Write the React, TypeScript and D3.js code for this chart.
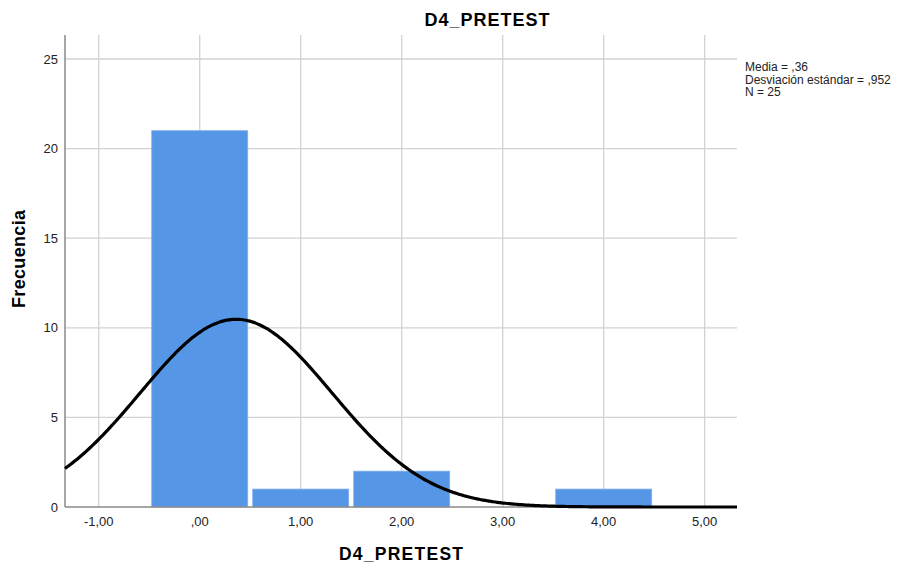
import * as d3 from 'd3'

// histogram bins (lower edge, upper edge) and counts
const binLower = [-0.5, 0.5, 1.5, 2.5, 3.5]
const binUpper = [0.5, 1.5, 2.5, 3.5, 4.5]
const counts = [21, 1, 2, 0, 1]
const xTicks = [-1, 0, 1, 2, 3, 4, 5]
const xTickLabels = ['-1,00', ',00', '1,00', '2,00', '3,00', '4,00', '5,00']
const yTicks = [0, 5, 10, 15, 20, 25]
const stats = ['Media = ,36', 'Desviación estándar = ,952', 'N = 25']
const mean = 0.36
const sd = 0.952
const n = 25

const W = 901
const H = 564
const margin = { top: 35, left: 65, right: 164, bottom: 57 }
const font = '"Liberation Sans", Arial, sans-serif'

const App = () => {
    const x = d3.scaleLinear().domain([-1.334, 5.32]).range([margin.left, W - margin.right])
    const y = d3.scaleLinear().domain([0, 26.34]).range([H - margin.bottom, margin.top])

    // fitted normal curve (count per bin of width 1)
    const xs = d3.range(-1.334, 5.32, 0.02).concat([5.32])
    const curvePts: [number, number][] = xs.map(v => [
        v,
        (n / (sd * Math.sqrt(2 * Math.PI))) * Math.exp(-0.5 * ((v - mean) / sd) ** 2),
    ])
    const line = d3.line<[number, number]>()
        .x(d => x(d[0]))
        .y(d => y(d[1]))
        .curve(d3.curveBasis)

    const [x0, x1] = x.range()
    const [yb, yt] = y.range()

    return (
        <svg width={W} height={H} style={{ position: 'absolute', left: 0, top: 0, background: '#fff' }}>
            <text x={487} y={26} textAnchor='middle' fontFamily={font} fontSize={18} fontWeight='bold' textLength={125}>D4_PRETEST</text>

            {/* grid */}
            {xTicks.map(t => (
                <line key={'gx' + t} x1={x(t)} x2={x(t)} y1={yt} y2={yb} stroke='#d2d2d2' strokeWidth={1.3} />
            ))}
            {yTicks.filter(t => t > 0).map(t => (
                <line key={'gy' + t} x1={x0} x2={x1} y1={y(t)} y2={y(t)} stroke='#d2d2d2' strokeWidth={1.3} />
            ))}

            {/* bars */}
            {counts.map((c, i) => c > 0 && (
                <rect key={'b' + i}
                    x={x(binLower[i]) + 2.5}
                    y={y(c)}
                    width={x(binUpper[i]) - x(binLower[i]) - 5}
                    height={yb - y(c)}
                    fill='#5596e6'
                    stroke='#7fb0ee'
                    strokeWidth={0.8} />
            ))}

            {/* axes */}
            <line x1={x0} x2={x0} y1={yt} y2={yb} stroke='#8a8a8a' strokeWidth={1.5} />
            <line x1={x0} x2={x1} y1={yb} y2={yb} stroke='#8a8a8a' strokeWidth={1.5} />

            <path d={line(curvePts) || ''} fill='none' stroke='#000' strokeWidth={3.2} />

            {yTicks.map(t => (
                <text key={'ty' + t} x={58} y={y(t) + 4.5} textAnchor='end' fontFamily={font} fontSize={13} fill='#222'>{t}</text>
            ))}
            {xTicks.map((t, i) => (
                <text key={'tx' + t} x={x(t)} y={526} textAnchor='middle' fontFamily={font} fontSize={13} fill='#222'>{xTickLabels[i]}</text>
            ))}

            <text x={401} y={560} textAnchor='middle' fontFamily={font} fontSize={17.5} fontWeight='bold' textLength={124}>D4_PRETEST</text>
            <text transform='translate(25,259) rotate(-90)' textAnchor='middle' fontFamily={font} fontSize={18} fontWeight='bold' textLength={98}>Frecuencia</text>

            {stats.map((s, i) => (
                <text key={'s' + i} x={745} y={71 + i * 12.5} fontFamily={font} fontSize={12} fill='#222'>{s}</text>
            ))}
        </svg>
    )
}

export default App
